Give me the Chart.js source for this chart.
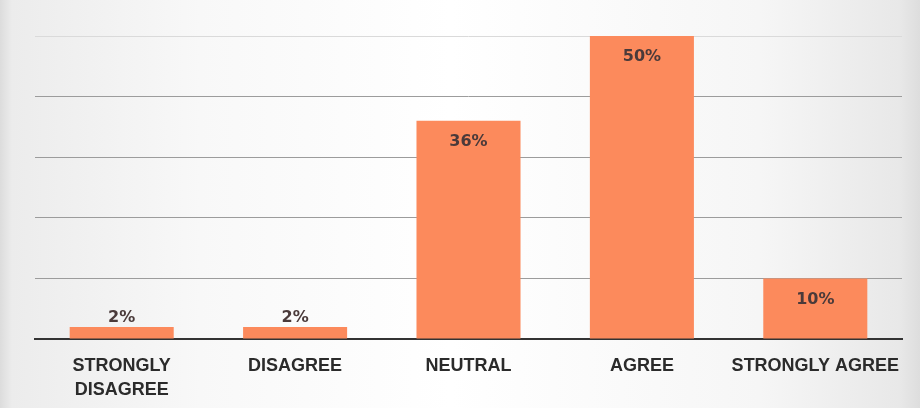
<!DOCTYPE html>
<html>
<head>
<meta charset="utf-8">
<script src="https://cdn.jsdelivr.net/npm/chart.js@4.4.1/dist/chart.umd.min.js"></script>
<style>
  html, body { margin: 0; padding: 0; }
  body {
    width: 920px; height: 408px; overflow: hidden;
    background:
      linear-gradient(to right, #dcdcdc 0, #ececec 12px, #f8f8f8 200px, #ffffff 450px, #f6f6f6 760px, #e8e8e8 900px, #dddddd 920px);
  }
  #wrap { position: relative; width: 920px; height: 408px; }
</style>
</head>
<body>
<div id="wrap"><canvas id="surveyChart" width="920" height="408"></canvas></div>
<script>
var categories = [["STRONGLY", "DISAGREE"], "DISAGREE", "NEUTRAL", "AGREE", "STRONGLY AGREE"];
var percentValues = [2, 2, 36, 50, 10];
var yTicks = [0, 10, 20, 30, 40, 50];

var barColor = '#fc8a5c';
var labelColor = '#4a3a3a';

// draws the "xx%" labels: inside near the top for tall bars, above for short ones
var valueLabels = {
  id: 'valueLabels',
  afterDatasetsDraw: function(chart) {
    var ctx = chart.ctx;
    var meta = chart.getDatasetMeta(0);
    ctx.save();
    ctx.font = 'bold 16px "DejaVu Sans"';
    ctx.fillStyle = labelColor;
    ctx.textAlign = 'center';
    ctx.textBaseline = 'middle';
    meta.data.forEach(function(bar, i) {
      var h = bar.base - bar.y;
      var y = h > 30 ? bar.y + 21 : bar.y - 9;
      ctx.fillText(percentValues[i] + '%', bar.x, y);
    });
    ctx.restore();
  }
};

var ctx = document.getElementById('surveyChart');
var surveyChart = new Chart(ctx, {
  type: 'bar',
  data: {
    labels: categories,
    datasets: [{
      data: percentValues,
      backgroundColor: barColor,
      borderWidth: 0,
      barPercentage: 0.6,
      categoryPercentage: 1.0
    }]
  },
  options: {
    responsive: false,
    animation: false,
    layout: { padding: { left: 35, right: 18, top: 36, bottom: 0 } },
    plugins: { legend: { display: false }, tooltip: { enabled: false } },
    scales: {
      x: {
        grid: { display: false, drawTicks: false },
        border: { display: true, color: '#333333', width: 2 },
        afterFit: function(axis) {
          axis.height = 69;
          axis.paddingRight = 0;
          axis.paddingLeft = 0;
        },
        ticks: {
          color: '#2b2b2b',
          font: { family: '"Liberation Sans"', weight: 'bold', size: 18, lineHeight: 1.33 },
          padding: 15,
          maxRotation: 0,
          autoSkip: false
        }
      },
      y: {
        min: yTicks[0],
        max: yTicks[yTicks.length - 1],
        afterBuildTicks: function(axis) {
          axis.ticks = yTicks.map(function(v) { return { value: v }; });
        },
        border: { display: false },
        grid: {
          drawTicks: false,
          lineWidth: 1,
          color: function(c) {
            return c.tick && c.tick.value === 50 ? '#dadada' : '#9c9c9c';
          }
        },
        ticks: { display: false }
      }
    }
  },
  plugins: [valueLabels]
});
</script>
</body>
</html>
